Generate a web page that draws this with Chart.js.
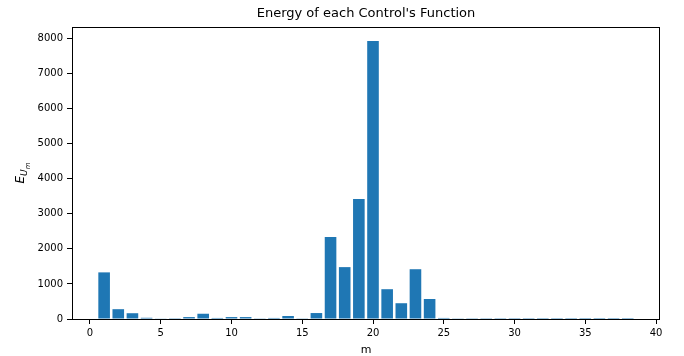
<!DOCTYPE html>
<html lang="en">
<head>
<meta charset="UTF-8">
<title>Energy of each Control's Function</title>
<script src="https://cdn.jsdelivr.net/npm/chart.js@4.4.1/dist/chart.umd.min.js"></script>
<style>
  body { margin: 0; background: #fff; }
  canvas { display: block; }
</style>
</head>
<body>
<canvas id="myChart" width="684" height="356"></canvas>
<script>
// control index m and the energy of each control's function
const mValues = [1, 2, 3, 4, 5, 6, 7, 8, 9, 10, 11, 12, 13, 14, 15, 16, 17, 18, 19,
  20, 21, 22, 23, 24, 25, 26, 27, 28, 29, 30, 31, 32, 33, 34, 35, 36, 37, 38];
const energy = [1330, 280, 165, 35, 10, 5, 55, 150, 30, 55, 55, 8, 30, 85, 8, 170, 2340, 1480, 3420,
  7930, 850, 450, 1420, 570, 30, 8, 6, 5, 4, 3, 3, 2, 2, 2, 1, 1, 1, 1];
const xTicks = [0, 5, 10, 15, 20, 25, 30, 35, 40];
const yTicks = [0, 1000, 2000, 3000, 4000, 5000, 6000, 7000, 8000];
const chartTitle = "Energy of each Control's Function";
const xTitle = "m";

const FONT = '"DejaVu Sans", sans-serif';

const decor = {
  id: 'decor',
  afterDraw(chart) {
    const ctx = chart.ctx;
    const a = chart.chartArea;
    ctx.save();
    // frame on all four sides
    ctx.strokeStyle = '#000';
    ctx.lineWidth = 1;
    ctx.strokeRect(Math.round(a.left) + 0.5, Math.round(a.top) + 0.5,
      Math.round(a.right - a.left) - 1, Math.round(a.bottom - a.top));
    ctx.fillStyle = '#000';
    ctx.textAlign = 'center';
    ctx.textBaseline = 'middle';
    ctx.font = '13px ' + FONT;
    ctx.fillText(chartTitle, (a.left + a.right) / 2, 14);
    ctx.font = '11px ' + FONT;
    ctx.fillText(xTitle, (a.left + a.right) / 2, 350);
    // y label E_{U_m}, rotated
    ctx.translate(21, (a.top + a.bottom) / 2);
    ctx.rotate(-Math.PI / 2);
    ctx.textAlign = 'left';
    ctx.textBaseline = 'alphabetic';
    ctx.font = 'italic 12px ' + FONT;
    const w1 = ctx.measureText('E').width;
    ctx.font = 'italic 9px ' + FONT;
    const w2 = ctx.measureText('U').width;
    ctx.font = 'italic 7px ' + FONT;
    const w3 = ctx.measureText('m').width;
    let x0 = -(w1 + w2 + w3) / 2;
    ctx.font = 'italic 12px ' + FONT;
    ctx.fillText('E', x0, 3);
    ctx.font = 'italic 9px ' + FONT;
    ctx.fillText('U', x0 + w1, 6);
    ctx.font = 'italic 7px ' + FONT;
    ctx.fillText('m', x0 + w1 + w2, 8.5);
    ctx.restore();
  }
};

new Chart(document.getElementById('myChart'), {
  type: 'bar',
  data: {
    datasets: [{
      data: mValues.map((m, i) => ({ x: m, y: energy[i] })),
      backgroundColor: '#1f77b4',
      borderWidth: 0,
      barPercentage: 0.82,
      categoryPercentage: 1.0
    }]
  },
  options: {
    responsive: false,
    animation: false,
    devicePixelRatio: 1,
    layout: { padding: { top: 27, right: 24, left: 0, bottom: 0 } },
    plugins: { legend: { display: false }, tooltip: { enabled: false }, title: { display: false } },
    scales: {
      x: {
        type: 'linear',
        offset: false,
        min: -1.27,
        max: 40.28,
        afterFit(scale) { scale.height = 37; },
        afterBuildTicks(scale) { scale.ticks = xTicks.map(v => ({ value: v })); },
        grid: { offset: false, drawOnChartArea: false, drawTicks: true, tickLength: 5, color: '#000', tickColor: '#000' },
        border: { display: false },
        ticks: { color: '#000', font: { family: FONT, size: 10 }, padding: 3, maxRotation: 0 }
      },
      y: {
        min: 0,
        max: 8330,
        afterFit(scale) { scale.width = 72; },
        afterBuildTicks(scale) { scale.ticks = yTicks.map(v => ({ value: v })); },
        grid: { drawOnChartArea: false, drawTicks: true, tickLength: 5, color: '#000', tickColor: '#000' },
        border: { display: false },
        ticks: { color: '#000', font: { family: FONT, size: 10 }, padding: 4, callback: v => String(v) }
      }
    }
  },
  plugins: [decor]
});
</script>
</body>
</html>
